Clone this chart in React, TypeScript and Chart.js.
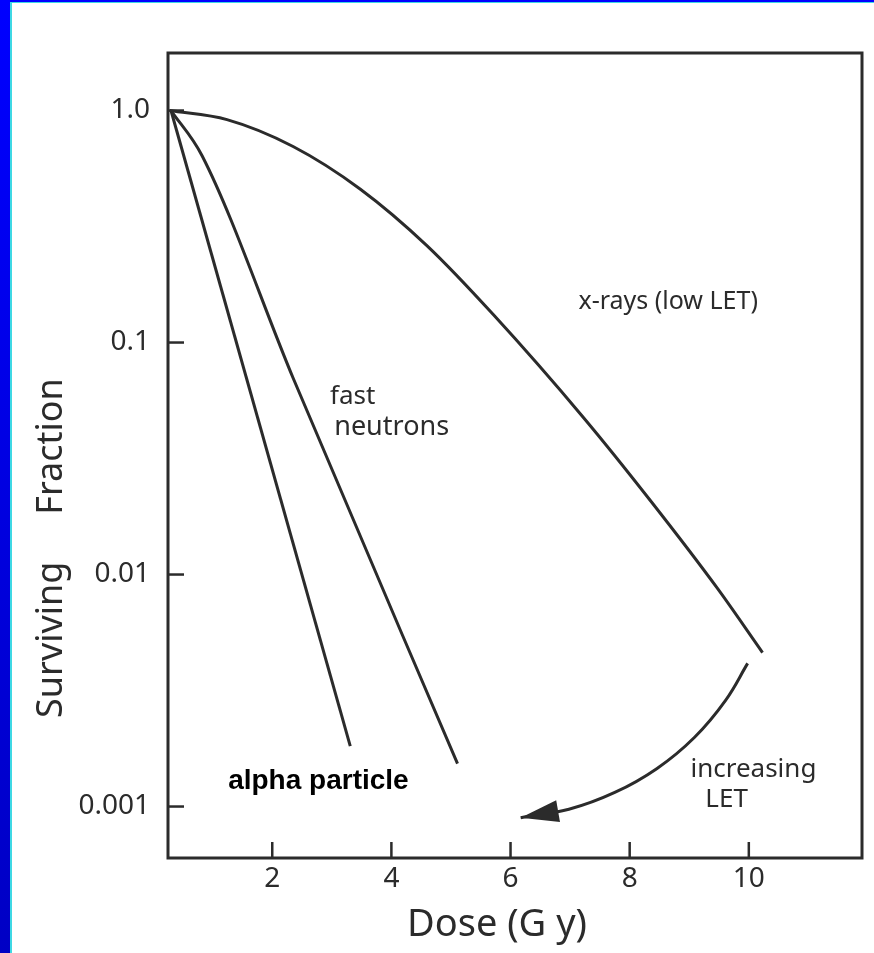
import React, { useEffect, useRef } from "react";
import { Chart, registerables } from "chart.js";
Chart.register(...registerables);

// ---- data ----
const xrayDose = [0.28, 1.24, 2.35, 3.48, 4.6, 5.71, 7.23, 8.35, 9.48, 10.23];
const xraySF = [1.0, 0.914, 0.7, 0.458, 0.261, 0.132, 0.0473, 0.0208, 0.00867, 0.00461];

const neutronDose = [0.3, 0.82, 2.35, 5.11];
const neutronSF = [1.0, 0.64, 0.0703, 0.00153];

const alphaDose = [0.3, 3.31];
const alphaSF = [1.0, 0.00182];

const arrowDose = [9.98, 9.61, 9.09, 8.46, 7.75, 6.98, 6.17];
const arrowSF = [0.00414, 0.00287, 0.00199, 0.00146, 0.00115, 0.000973, 0.000895];

const xTickValues = [2, 4, 6, 8, 10];
const xTickLabels = ["2", "4", "6", "8", "10"];
const yTickValues = [1, 0.1, 0.01, 0.001];
const yTickLabels = ["1.0", "0.1", "0.01", "0.001"];

const xTitle = "Dose (G y)";
const yTitle = "Surviving     Fraction";

const noteTexts = ["x-rays (low LET)", "fast", "neutrons", "increasing", "LET", "alpha particle"];
const noteDose = [7.14, 2.97, 3.04, 9.02, 9.27, 1.26];
const noteSF = [0.15, 0.0583, 0.0433, 0.00144, 0.00107, 0.00128];

// ---- styles ----
const INK = "#2b2b2b";
const FONT = "'Noto Sans', 'DejaVu Sans', sans-serif";
const noteBold = [false, false, false, false, false, true];
const noteSize = [25, 26, 27, 26, 26, 28];

const toPts = (xs: number[], ys: number[]) => xs.map((x, i) => ({ x, y: ys[i] }));

const overlayPlugin = {
  id: "overlay",
  afterDatasetsDraw(chart: any) {
    const { ctx, chartArea: a, scales } = chart;
    const x = scales.x;
    const y = scales.y;
    ctx.save();
    ctx.strokeStyle = INK;
    ctx.lineWidth = 3;
    ctx.lineCap = "butt";
    ctx.strokeRect(a.left, a.top, a.right - a.left, a.bottom - a.top);
    ctx.lineWidth = 2.5;
    yTickValues.forEach((v) => {
      const py = y.getPixelForValue(v);
      ctx.beginPath();
      ctx.moveTo(a.left, py);
      ctx.lineTo(a.left + 16, py);
      ctx.stroke();
    });
    xTickValues.forEach((v) => {
      const px = x.getPixelForValue(v);
      ctx.beginPath();
      ctx.moveTo(px, a.bottom);
      ctx.lineTo(px, a.bottom - 16);
      ctx.stroke();
    });
    // arrow head
    const meta = chart.getDatasetMeta(3);
    const pts = meta.data;
    if (pts.length >= 2) {
      const tip = pts[pts.length - 1];
      const prev = pts[pts.length - 2];
      const ang = Math.atan2(tip.y - prev.y, tip.x - prev.x);
      const len = 38;
      const hw = 11;
      const bx = tip.x - len * Math.cos(ang);
      const by = tip.y - len * Math.sin(ang);
      ctx.fillStyle = INK;
      ctx.beginPath();
      ctx.moveTo(tip.x, tip.y);
      ctx.lineTo(bx + hw * Math.sin(ang), by - hw * Math.cos(ang));
      ctx.lineTo(bx - hw * Math.sin(ang), by + hw * Math.cos(ang));
      ctx.closePath();
      ctx.fill();
    }
    // notes
    noteTexts.forEach((t, i) => {
      const px = x.getPixelForValue(noteDose[i]);
      const py = y.getPixelForValue(noteSF[i]);
      ctx.textAlign = "left";
      ctx.textBaseline = "middle";
      if (noteBold[i]) {
        ctx.font = `bold ${noteSize[i]}px 'Liberation Sans', Arial, sans-serif`;
        ctx.fillStyle = "#000";
      } else {
        ctx.font = `${noteSize[i]}px ${FONT}`;
        ctx.fillStyle = INK;
      }
      ctx.fillText(t, px, py);
    });
    // axis titles
    ctx.fillStyle = INK;
    ctx.textAlign = "center";
    ctx.textBaseline = "middle";
    ctx.font = `38px ${FONT}`;
    ctx.fillText(xTitle, a.left + (a.right - a.left) * 0.474, a.bottom + 67);
    ctx.save();
    ctx.translate(a.left - 116, a.top + (a.bottom - a.top) * 0.615);
    ctx.rotate(-Math.PI / 2);
    ctx.font = `36px ${FONT}`;
    ctx.fillText(yTitle, 0, 0);
    ctx.restore();
    ctx.restore();
  },
};

export default function App() {
  const ref = useRef<HTMLCanvasElement | null>(null);
  useEffect(() => {
    if (!ref.current) return;
    const line = (data: any, tension: number, mode?: string) => ({
      data,
      showLine: true,
      borderColor: INK,
      borderWidth: 3,
      pointRadius: 0,
      fill: false,
      tension,
      cubicInterpolationMode: mode || "default",
    });
    const chart = new Chart(ref.current, {
      type: "scatter",
      data: {
        datasets: [
          line(toPts(xrayDose, xraySF), 0.4, "monotone"),
          line(toPts(neutronDose, neutronSF), 0.4, "monotone"),
          line(toPts(alphaDose, alphaSF), 0),
          line(toPts(arrowDose, arrowSF), 0.4),
        ] as any,
      },
      options: {
        animation: false,
        responsive: false,
        events: [],
        layout: { padding: { left: 0, top: 53, right: 12, bottom: 0 } },
        plugins: { legend: { display: false }, tooltip: { enabled: false } },
        scales: {
          x: {
            type: "linear",
            min: 0.25,
            max: 11.9,
            grid: { display: false, drawTicks: false },
            border: { display: false },
            afterBuildTicks: (s: any) => {
              s.ticks = xTickValues.map((v) => ({ value: v }));
            },
            afterFit: (s: any) => {
              s.height = 95;
            },
            ticks: {
              padding: 4,
              color: INK,
              font: { family: FONT, size: 28 },
              callback: (v: any) => xTickLabels[xTickValues.indexOf(Number(v))] ?? "",
            },
            title: { display: false },
          },
          y: {
            type: "logarithmic",
            min: 0.000628,
            max: 1.77,
            grid: { display: false, drawTicks: false },
            border: { display: false },
            afterBuildTicks: (s: any) => {
              s.ticks = yTickValues.map((v) => ({ value: v }));
            },
            afterFit: (s: any) => {
              s.width = 168;
            },
            ticks: {
              padding: 18,
              color: INK,
              font: { family: FONT, size: 28 },
              callback: (v: any) => {
                const i = yTickValues.findIndex((t) => Math.abs(t - Number(v)) < t * 1e-6);
                return i >= 0 ? yTickLabels[i] : "";
              },
            },
            title: { display: false },
          },
        },
      },
      plugins: [overlayPlugin],
    } as any);
    return () => chart.destroy();
  }, []);

  return (
    <div style={{ position: "fixed", left: 0, top: 0, width: 874, height: 953, background: "#fff", overflow: "hidden" }}>
      <canvas ref={ref} width={874} height={953} style={{ position: "absolute", left: 0, top: 0 }} />
      <div style={{ position: "absolute", left: 0, top: 0, width: 10, height: 953, background: "linear-gradient(#0000ff, #0000c4)" }} />
      <div style={{ position: "absolute", left: 10, top: 0, width: 2, height: 953, background: "#3fd8e4" }} />
      <div style={{ position: "absolute", left: 0, top: 0, width: 874, height: 2, background: "#0000ff" }} />
      <div style={{ position: "absolute", left: 10, top: 2, width: 864, height: 1, background: "#3fd8e4" }} />
    </div>
  );
}
